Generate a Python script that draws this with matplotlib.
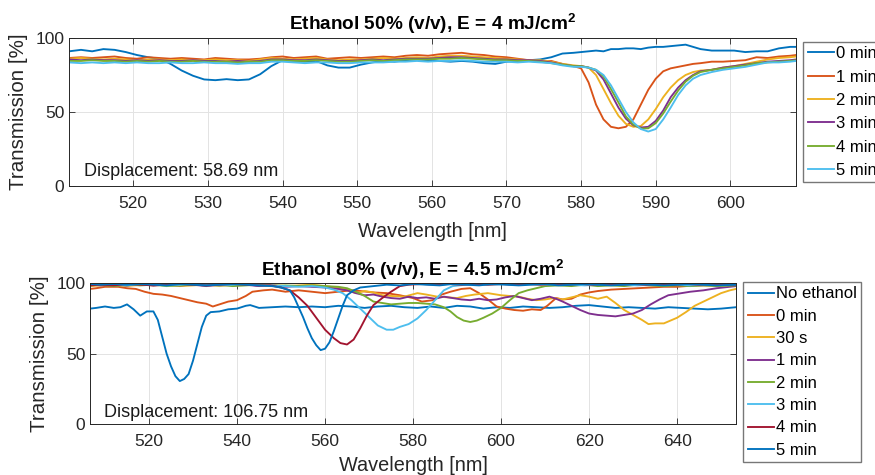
import matplotlib
matplotlib.use("Agg")
import matplotlib.pyplot as plt

plt.rcParams['font.family'] = ['Liberation Sans', 'DejaVu Sans']
plt.rcParams['mathtext.fontset'] = 'custom'
plt.rcParams['mathtext.rm'] = 'Liberation Sans'
plt.rcParams['mathtext.bf'] = 'Liberation Sans:bold'

# MATLAB default colour order
c_blue, c_orange, c_yellow = '#0072BD', '#D95319', '#EDB120'
c_purple, c_green, c_cyan, c_red = '#7E2F8E', '#77AC30', '#4DBEEE', '#A2142F'

# ---- Ethanol 50 % : shared wavelength samples ----
wl_50 = [511.4, 513, 514.5, 516, 517.5, 519, 520.5, 522, 523.5, 525, 526.5, 528, 529.5,
         531, 532.5, 534, 535.5, 537, 538.5, 540, 541.5, 543, 544.5, 546, 547.5, 549,
         550.5, 552, 553.5, 555, 556.5, 558, 559.5, 561, 562.5, 564, 565.5, 567, 568.5,
         570, 571.5, 573, 574.5, 576, 577.5, 579, 580, 581, 582, 583, 584, 585, 586, 587,
         588, 589, 590, 591, 592, 593, 594, 595, 596, 597.5, 599, 600.5, 602, 603.5, 605,
         606.5, 608, 608.8]

t50_0min = [91, 92, 91, 92.5, 92, 90.5, 88.5, 87, 86, 82.5, 78, 74.5, 72, 71.5, 72.2, 71.5,
            72, 75.5, 81, 85, 84.5, 84, 84.5, 81.5, 80, 80, 82, 83.5, 84.5, 84, 85, 85.5,
            85, 84.5, 84, 84.5, 84, 83, 82.5, 84, 84.5, 85, 85.5, 87, 89.5, 90, 90.5, 91,
            91.5, 91, 92.5, 92.5, 93, 93, 92.5, 93.5, 94, 94, 94.5, 95, 95.5, 94, 92.5,
            91.5, 91.5, 91.5, 90.5, 91, 91, 93, 94, 94]
t50_1min = [86.5, 87, 86.5, 87, 87.5, 86.5, 86, 87, 86.5, 86, 86.5, 86, 85.5, 86.5, 86, 85.5,
            85.5, 86, 87, 87.5, 86.5, 87, 87.5, 86, 86.5, 87, 86.5, 87, 87.5, 87, 88, 88.5,
            88, 89, 89.5, 90, 89, 88.5, 87.5, 87, 86, 85, 84, 84.5, 82.5, 81, 79.5, 70, 55,
            45, 40, 39, 40, 45, 55, 65, 72.5, 77.5, 79.5, 80.5, 81.5, 82.5, 83, 84, 84, 84.5,
            85, 87, 86.5, 87.5, 88, 88.5]
t50_2min = [86, 86.5, 86, 85.5, 86, 85.5, 85, 85.5, 85.5, 85, 85.5, 85, 85, 85.5, 85, 85,
            84.5, 85.5, 86.5, 86, 85.5, 86, 86.5, 85.5, 85, 85.5, 85.5, 86, 86.5, 86, 86.5,
            87, 86.5, 87.5, 88, 88, 87.5, 87, 86.5, 86, 85.5, 85, 85, 84, 82.5, 81.5, 81,
            80, 75, 65.5, 56, 47.5, 42, 40, 40.5, 45, 52, 60, 66.5, 71.5, 75, 77, 78, 78.5,
            80, 81, 82.5, 84, 85.5, 86.5, 87, 87.5]
t50_3min = [85.5, 85, 85.5, 85, 85, 84.5, 85, 84.5, 85, 84.5, 84.5, 85, 84.5, 84.5, 84, 84.5,
            84, 84.5, 85.5, 85.5, 85, 85, 85.5, 85, 84.5, 84.5, 85, 85.5, 85, 85.5, 86, 86,
            86, 86.5, 87, 87, 86.5, 86, 85.5, 85.5, 85, 85, 84.5, 83.5, 82, 81, 81, 80, 78,
            72, 62.5, 53, 45.5, 41, 39.5, 40, 44, 51, 60, 66.5, 71.5, 75, 77.5, 78.5, 80, 81,
            82, 83, 84, 84.5, 85, 85.5]
t50_4min = [84.5, 84.5, 85, 84.5, 84.5, 84, 84.5, 84, 84.5, 84, 84, 84.5, 84, 84, 84, 83.5,
            84, 84, 85, 85, 84.5, 84.5, 85, 84.5, 84, 84, 84.5, 85, 84.5, 85, 85.5, 85.5,
            85.5, 86, 86, 86.5, 86, 85.5, 85, 85, 84.5, 84.5, 84, 83, 82, 81, 81, 80, 78.5,
            74, 65.5, 56.5, 47, 41.5, 38.8, 39, 42.5, 49, 57, 64.5, 70.5, 74.5, 77, 78.5,
            79.5, 80.5, 81.5, 83, 83.5, 84, 84.5, 85]
t50_5min = [83.5, 83, 83.5, 83, 83.5, 83, 83.5, 83, 83, 83.5, 83, 83, 83.5, 83, 83, 82.5, 83,
            83, 84, 84, 83.5, 83, 83.5, 83.5, 83, 83, 83.5, 83.5, 83.5, 84, 84, 84.5, 84,
            84.5, 84.5, 85, 84.5, 84, 84, 84, 83.5, 84, 83.5, 83, 81.5, 80.5, 80.5, 80, 78.5,
            75, 68, 59, 50, 43, 38.5, 36.8, 38.5, 45, 53, 61.5, 68, 72.5, 75, 77, 78.5, 79.5,
            80.5, 82, 83.5, 83.5, 84, 84.5]

labels_50 = ['0 min', '1 min', '2 min', '3 min', '4 min', '5 min']

# ---- Ethanol 80 % : (wavelength, transmission) pairs per curve ----
no_ethanol = [(506.6, 82), (508, 82.5), (510, 83.5), (512, 82.5), (513.5, 83), (515, 85),
              (516.5, 81.5), (518, 77), (519.5, 80), (521, 80), (522, 74), (523, 62),
              (524, 50), (525, 41), (526, 34), (527, 30.5), (528, 32), (529, 35.5), (530, 45),
              (531, 57), (532, 69), (533, 77), (534, 79.5), (536, 80), (538, 81.5), (540, 82),
              (542, 84), (543, 84.5), (545, 82.5), (548, 83), (551, 83.5), (554, 83),
              (557, 83.5), (560, 83), (563, 84), (566, 83.5), (569, 82.5), (572, 83.5),
              (575, 84), (578, 83), (581, 82.5), (584, 83.5), (587, 82.5), (590, 84),
              (593, 83.5), (596, 82), (599, 83), (602, 82.5), (605, 83.5), (608, 83),
              (611, 82.5), (614, 83), (617, 84), (620, 84.5), (623, 83.5), (626, 82.5),
              (629, 83), (632, 82.5), (635, 82), (638, 83), (641, 82.5), (644, 82),
              (647, 81.5), (650, 82), (653.4, 83)]
min_0 = [(506.6, 96), (508, 96.5), (510, 97.5), (513, 97.5), (515, 96.5), (517, 96), (519, 94),
         (521, 92.5), (523, 92), (525, 91), (527, 89.5), (529, 88), (531, 86.5), (533, 85.5),
         (534.5, 83.5), (536, 85), (538, 87), (540, 88), (542, 91), (543.5, 94), (546, 95),
         (548, 95.5), (551, 94), (554, 95), (557, 94), (560, 93), (563, 94), (566, 95),
         (568, 94.5), (571, 93.5), (574, 93), (577, 91.5), (580, 89.5), (582, 87),
         (584.5, 88), (586.5, 92), (588.5, 94), (591, 96), (593, 96.5), (595, 93),
         (597, 88.5), (599, 83.5), (601, 82), (603, 81), (605, 80.5), (607, 81.5),
         (609, 81), (610.5, 84), (612.5, 89.5), (614, 88.5), (616, 89), (618, 92),
         (620, 93.5), (622, 94.5), (625, 95.5), (628, 96), (631, 96.5), (634, 97),
         (637, 97.5), (640, 97.5), (644, 98.5), (648, 98.5), (651, 99), (653.4, 99.5)]
sec_30 = [(506.6, 98), (509, 98.5), (512, 99), (515, 98), (518, 99), (521, 98.5), (524, 99),
          (527, 98), (530, 98.5), (533, 99), (536, 98), (539, 99), (542, 99.5), (545, 98.5),
          (548, 99), (551, 98), (554, 98.5), (557, 99), (560, 98), (562.5, 97), (565, 95.5),
          (567, 93), (569, 94.5), (571, 93.5), (573, 91.5), (575, 91), (578, 90.5), (581, 93),
          (583, 92), (585.5, 90.5), (588, 90), (590, 89.5), (592, 91), (594, 92), (597, 93),
          (600, 91.5), (602, 91), (604, 90.5), (606, 89), (608, 88), (610, 88.5),
          (612, 89.5), (614, 88.5), (616, 90), (618, 91.5), (620, 90.5), (622, 89),
          (624, 90.5), (626, 86), (628, 81), (630, 77.5), (632, 74), (633.5, 71),
          (635, 71.5), (637, 71.5), (638.5, 73.5), (640, 75.5), (642, 79.5), (644, 84),
          (646, 87), (648, 90), (650, 93), (652, 95), (653.4, 96)]
min_1 = [(506.6, 99), (509, 98.5), (512, 99), (515, 98.5), (518, 99.5), (521, 98.5), (524, 99),
         (527, 98.5), (530, 99), (533, 98), (536, 99), (539, 98.5), (542, 99), (545, 98),
         (548, 98.5), (551, 97.5), (554, 98), (557, 97.5), (560, 97), (563, 96), (565, 95),
         (567, 93), (569, 91.5), (571, 92), (573, 90.5), (575, 89.5), (577, 89), (579, 90.5),
         (581, 89.5), (583, 90), (585, 89), (587, 90.5), (589, 89.5), (591, 88.5), (593, 88),
         (595, 89), (597, 88), (599, 88.5), (601, 90), (603, 91), (605, 89.5), (607, 88),
         (609, 89), (611, 90.5), (612.5, 89), (614, 87), (616, 84), (618, 81), (620, 78.5),
         (622, 77.5), (624, 77), (626, 76.5), (628, 77.5), (630, 78.5), (632, 81), (634, 85),
         (636, 88.5), (638, 91.5), (640, 92.5), (643, 94), (646, 95), (649, 96.5),
         (653.4, 98)]
min_2 = [(506.6, 98.5), (509, 99), (512, 98), (515, 99), (518, 98.5), (521, 99), (524, 98),
         (527, 98.5), (530, 99), (533, 98.5), (536, 99), (539, 98), (542, 98.5), (545, 99),
         (548, 98), (551, 98.5), (554, 98), (557, 98.5), (560, 98), (563, 97.5), (565, 96.5),
         (567, 94), (569, 91), (571, 87), (573, 86), (575, 85), (577, 85.5), (579, 86),
         (581, 86), (583, 85.5), (585, 85), (587, 83), (588.5, 80), (590, 76), (591.5, 73.5),
         (593, 72.5), (594.5, 73.5), (596, 75.5), (598, 78.5), (600, 82.5), (602, 88),
         (604, 93), (606, 95), (608, 96.5), (610, 98), (613, 98.5), (616, 98), (619, 99),
         (622, 98), (625, 98.5), (628, 98), (631, 99), (634, 98.5), (637, 98), (640, 98.5),
         (643, 98), (646, 98.5), (649, 98), (653.4, 98.5)]
min_3 = [(506.6, 99), (509, 99.5), (512, 99), (515, 98.5), (518, 99.5), (521, 99), (524, 98.5),
         (527, 99), (530, 99.5), (533, 99), (536, 98.5), (539, 99), (542, 99.5), (545, 98.5),
         (548, 98.5), (551, 98), (554, 97.5), (557, 98), (560, 97), (562, 95.5), (564, 93),
         (566, 88), (568, 82), (570, 76), (572, 70), (574, 67), (575.5, 67), (577, 69),
         (579, 71), (581, 75), (583, 81), (585, 88), (587, 95), (589, 98), (592, 99),
         (595, 99.5), (598, 99), (601, 99.5), (604, 99), (607, 99.5), (610, 99), (613, 99.5),
         (616, 99), (619, 98.5), (622, 99), (625, 99.5), (628, 99), (631, 98.5), (634, 99),
         (637, 99.5), (640, 99), (643, 98.5), (646, 99), (649, 99.5), (653.4, 99)]
min_4 = [(506.6, 98.5), (509, 99), (512, 98.5), (515, 99.5), (518, 99), (521, 98.5), (524, 99),
         (527, 99.5), (530, 99), (533, 98.5), (536, 99), (539, 99.5), (542, 99), (545, 98.5),
         (547.5, 98.5), (550, 97), (552, 95), (554, 90), (556, 84), (558, 75.5), (560, 67),
         (562, 61), (563.5, 57.5), (565, 56.5), (566.5, 60), (568, 68), (569.5, 77),
         (571, 84.5), (573, 89.5), (575, 94), (577, 98), (579, 99), (582, 99.5), (585, 99),
         (588, 99.5), (591, 99), (594, 99.5), (597, 99), (600, 99.5), (603, 99), (606, 99.5),
         (609, 99), (612, 99.5), (615, 99), (618, 99.5), (621, 99), (624, 99.5), (627, 99),
         (630, 99.5), (633, 99), (636, 99.5), (639, 99), (642, 99.5), (645, 99), (648, 99.5),
         (653.4, 99)]
min_5 = [(506.6, 99.5), (509, 99), (512, 99.5), (515, 99), (518, 99.5), (521, 99), (524, 98.5),
         (527, 99.5), (530, 99), (533, 98.5), (536, 99), (539, 99.5), (542, 99), (545, 98.5),
         (548, 98), (550, 97), (552, 95), (553, 90), (554, 83), (555, 76), (556, 68), (557, 61),
         (558, 56), (559, 52.5), (560, 53.5), (561, 58), (562, 66), (563, 75), (564, 84),
         (565, 91.5), (566.5, 95), (568, 97), (571, 98), (574, 99), (577, 98.5), (580, 99.5),
         (583, 99), (586, 98.5), (589, 99.5), (592, 99), (595, 98.5), (598, 99.5), (601, 99),
         (604, 98.5), (607, 99), (610, 99.5), (613, 98.5), (616, 99), (619, 99.5), (622, 99),
         (625, 98.5), (628, 99), (631, 99.5), (634, 99), (637, 98.5), (640, 99), (643, 99.5),
         (646, 99), (649, 98.5), (653.4, 99)]

labels_80 = ['No ethanol', '0 min', '30 s', '1 min', '2 min', '3 min', '4 min', '5 min']


def matlab_style(ax):
    ax.tick_params(direction='in', top=True, right=True, length=4, width=0.6,
                   labelsize=12.5, colors='#262626')
    ax.tick_params(axis='x', pad=7)
    for s in ax.spines.values():
        s.set_color('#262626')
        s.set_linewidth(0.7)
    ax.grid(True, color='#e3e3e3', linewidth=0.7)
    ax.set_axisbelow(True)


fig = plt.figure(figsize=(8.75, 4.75), dpi=100)

# top panel
ax1 = fig.add_axes([0.0789, 0.6084, 0.8309, 0.3116])
series_50 = [t50_0min, t50_1min, t50_2min, t50_3min, t50_4min, t50_5min]
colors_50 = [c_blue, c_orange, c_yellow, c_purple, c_green, c_cyan]
for vals, col, lab in zip(series_50, colors_50, labels_50):
    ax1.plot(wl_50, vals, color=col, linewidth=1.35, label=lab)
ax1.set_xlim(511.4, 608.8)
ax1.set_ylim(0, 100)
ax1.set_xticks([520, 530, 540, 550, 560, 570, 580, 590, 600])
ax1.set_yticks([0, 50, 100])
matlab_style(ax1)
ax1.set_xlabel('Wavelength [nm]', fontsize=14.3, color='#262626', labelpad=8)
ax1.set_ylabel('Transmission [%]', fontsize=14.8, color='#262626', labelpad=5)
ax1.set_title(r'Ethanol 50% (v/v), E = 4 mJ/cm$^{\mathbf{2}}$', fontsize=13.7,
              fontweight='bold', pad=6)
ax1.text(0.02, 0.095, 'Displacement: 58.69 nm', transform=ax1.transAxes,
         fontsize=13, va='center', color='#1a1a1a')
ax1.legend(loc='upper left', bbox_to_anchor=(1.0096, 0.975), fontsize=12,
           frameon=True, fancybox=False, edgecolor='#555555', handlelength=1.6,
           handletextpad=0.1, labelspacing=0.5, borderpad=0.27, borderaxespad=0)

# bottom panel
ax2 = fig.add_axes([0.1029, 0.1074, 0.7383, 0.2962])
series_80 = [no_ethanol, min_0, sec_30, min_1, min_2, min_3, min_4, min_5]
colors_80 = [c_blue, c_orange, c_yellow, c_purple, c_green, c_cyan, c_red, c_blue]
for pairs, col, lab in zip(series_80, colors_80, labels_80):
    xs = [p[0] for p in pairs]
    ys = [p[1] for p in pairs]
    ax2.plot(xs, ys, color=col, linewidth=1.35, label=lab)
ax2.set_xlim(506.6, 653.4)
ax2.set_ylim(0, 100)
ax2.set_xticks([520, 540, 560, 580, 600, 620, 640])
ax2.set_yticks([0, 50, 100])
matlab_style(ax2)
ax2.set_xlabel('Wavelength [nm]', fontsize=14.3, color='#262626', labelpad=5)
ax2.set_ylabel('Transmission [%]', fontsize=14.8, color='#262626', labelpad=5)
ax2.set_title(r'Ethanol 80% (v/v), E = 4.5 mJ/cm$^{\mathbf{2}}$', fontsize=13.7,
              fontweight='bold', pad=5)
ax2.text(0.022, 0.085, 'Displacement: 106.75 nm', transform=ax2.transAxes,
         fontsize=13, va='center', color='#1a1a1a')
ax2.legend(loc='upper left', bbox_to_anchor=(1.0113, 1.007), fontsize=12,
           frameon=True, fancybox=False, edgecolor='#555555', handlelength=1.6,
           handletextpad=0.1, labelspacing=0.44, borderpad=0.25, borderaxespad=0)

fig.savefig('out.png', dpi=100)
